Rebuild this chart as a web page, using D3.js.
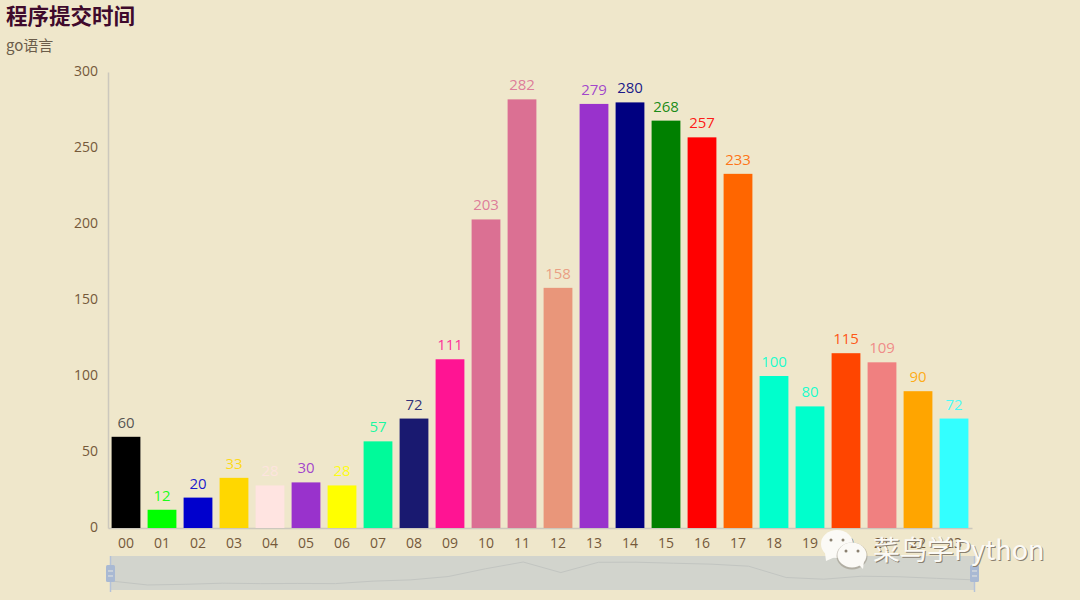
<!DOCTYPE html>
<html>
<head>
<meta charset="utf-8">
<style>
    html, body { margin: 0; padding: 0; background: #efe7cb; }
    svg { display: block; font-family: "Noto Sans CJK SC", "Open Sans", sans-serif; }
    .domain { stroke: #ccc8bd; stroke-width: 1.5; }
    .tick text { fill: #75593a; font-size: 14px; font-family: "Open Sans", sans-serif; }
</style>
<script src="https://cdn.jsdelivr.net/npm/d3@7"></script>
</head>
<body>
<div id="chart"></div>
<script>
// Values
const hours = ['00', '01', '02', '03', '04', '05', '06', '07', '08', '09', '10', '11',
    '12', '13', '14', '15', '16', '17', '18', '19', '20', '21', '22', '23'];
const counts = [60, 12, 20, 33, 28, 30, 28, 57, 72, 111, 203, 282,
    158, 279, 280, 268, 257, 233, 100, 80, 115, 109, 90, 72];
const barColors = ['#000000', '#00ff00', '#0000cd', '#ffd700', '#ffe4e1', '#9932cc', '#ffff00', '#00fa9a',
    '#191970', '#ff1493', '#db7093', '#db7093', '#e9967a', '#9932cc', '#000080', '#008000',
    '#ff0000', '#ff6600', '#00ffcc', '#00ffcc', '#ff4500', '#f08080', '#ffa500', '#33ffff'];
const yTicks = [0, 50, 100, 150, 200, 250, 300];

const width = 1080;
const height = 600;

const svg = d3.select('#chart')
    .append('svg')
    .attr('width', width)
    .attr('height', height);

// Title
svg.append('text')
    .attr('x', 6)
    .attr('y', 24)
    .attr('font-size', 21.5)
    .attr('font-weight', 700)
    .attr('fill', '#3f0a2c')
    .text('程序提交时间');

svg.append('text')
    .attr('x', 6)
    .attr('y', 51)
    .attr('font-size', 15)
    .attr('fill', '#6b5d4a')
    .text('go语言');

// Scales
const xScale = d3.scaleBand()
    .domain(hours)
    .range([108, 972])
    .paddingInner(0.2)
    .paddingOuter(0.1);

const yScale = d3.scaleLinear()
    .domain([0, 300])
    .range([528, 72]);

// Axes
svg.append('g')
    .attr('transform', 'translate(108,0)')
    .call(d3.axisLeft(yScale).tickValues(yTicks).tickSize(0).tickPadding(10).tickSizeOuter(0))
    .selectAll('.tick text')
    .attr('dy', '0.22em');

svg.append('g')
    .attr('transform', 'translate(0,528)')
    .call(d3.axisBottom(xScale).tickSize(0).tickPadding(10));

// Bars
svg.selectAll('.bar')
    .data(counts)
    .enter()
    .append('rect')
    .attr('class', 'bar')
    .attr('x', (d, i) => xScale(hours[i]))
    .attr('y', d => yScale(d))
    .attr('width', xScale.bandwidth())
    .attr('height', d => yScale(0) - yScale(d))
    .attr('fill', (d, i) => barColors[i]);

// Value labels
svg.selectAll('.value-label')
    .data(counts)
    .enter()
    .append('text')
    .attr('class', 'value-label')
    .attr('x', (d, i) => xScale(hours[i]) + xScale.bandwidth() / 2)
    .attr('y', d => yScale(d) - 9)
    .attr('text-anchor', 'middle')
    .attr('font-size', 15)
    .attr('font-family', '"Open Sans", sans-serif')
    .attr('fill', (d, i) => i === 0 ? '#444444' : barColors[i])
    .attr('fill-opacity', 0.9)
    .text(d => d);

// Data zoom slider
const sliderX = d3.scalePoint().domain(hours).range([110, 974]);
const sliderY = d3.scaleLinear().domain([0, 300]).range([586, 560.5]);

svg.append('rect')
    .attr('x', 110)
    .attr('y', 556)
    .attr('width', 864)
    .attr('height', 34)
    .attr('fill', '#d2d4cd');

svg.append('path')
    .datum(counts)
    .attr('fill', 'none')
    .attr('stroke', '#c2c5c1')
    .attr('stroke-width', 1)
    .attr('d', d3.line()
        .x((d, i) => sliderX(hours[i]))
        .y(d => sliderY(d)));

[110.5, 974.5].forEach(x => {
    svg.append('line')
        .attr('x1', x)
        .attr('x2', x)
        .attr('y1', 556)
        .attr('y2', 592)
        .attr('stroke', '#b4c2d8')
        .attr('stroke-width', 1.5);
    svg.append('rect')
        .attr('x', x - 4.5)
        .attr('y', 565)
        .attr('width', 9)
        .attr('height', 17)
        .attr('rx', 1.5)
        .attr('fill', '#a9b9d3');
    [571, 576].forEach(y => {
        svg.append('line')
            .attr('x1', x - 2.5)
            .attr('x2', x + 2.5)
            .attr('y1', y)
            .attr('y2', y)
            .attr('stroke', '#e6e6e0')
            .attr('stroke-width', 1);
    });
});

// Watermark
const mark = svg.append('g');

function bubble(cx, cy, rx, ry, tail) {
    mark.append('path')
        .attr('d', tail)
        .attr('fill', '#fbfaf6');
    mark.append('ellipse')
        .attr('cx', cx)
        .attr('cy', cy)
        .attr('rx', rx)
        .attr('ry', ry)
        .attr('fill', '#fbfaf6');
    [-6, 6].forEach(dx => {
        mark.append('circle')
            .attr('cx', cx + dx)
            .attr('cy', cy - 4)
            .attr('r', 1.5)
            .attr('fill', '#8a8070');
    });
}

bubble(837, 544, 16, 14, 'M825,553 L826,561 L835,557 Z');
mark.append('ellipse')
    .attr('cx', 852)
    .attr('cy', 556)
    .attr('rx', 15.5)
    .attr('ry', 13.5)
    .attr('fill', '#8a8070')
    .attr('fill-opacity', 0.45);
bubble(852, 555, 14.5, 12.5, 'M858,564 L863,569 L864,561 Z');

svg.append('text')
    .attr('x', 873)
    .attr('y', 560)
    .attr('font-size', 27)
    .attr('fill', '#8a8070')
    .attr('transform', 'translate(1,1)')
    .text('菜鸟学Python');

svg.append('text')
    .attr('x', 873)
    .attr('y', 560)
    .attr('font-size', 27)
    .attr('fill', '#fbfaf6')
    .text('菜鸟学Python');
</script>
</body>
</html>
